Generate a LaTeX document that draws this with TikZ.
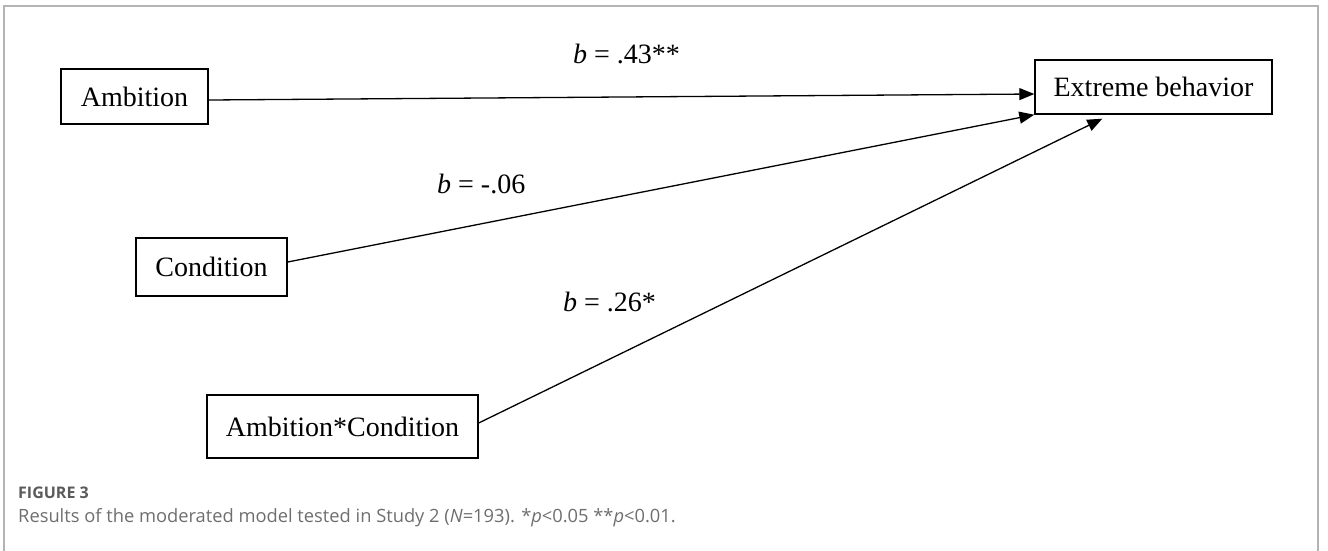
\documentclass[tikz,border=0pt]{standalone}
\usepackage{fontspec}
\setmainfont{Liberation Serif}
\newfontfamily\capfont{Open Sans}
\usetikzlibrary{arrows.meta,calc}
\definecolor{framegray}{HTML}{B4B4B4}
\definecolor{capgray}{HTML}{6E6E6E}
\definecolor{figgray}{HTML}{5A5A5A}
\tikzset{
  varbox/.style={draw=black, line width=1.4pt, fill=white, inner sep=0pt, font=\fontsize{28}{32}\selectfont},
  path/.style={draw=black, line width=1.3pt, -{Triangle[length=15pt,width=12pt]}},
  coef/.style={font=\fontsize{28}{32}\selectfont, inner sep=0pt, anchor=base west},
  capstyle/.style={inner sep=0pt, anchor=base west, text=capgray, font=\capfont\fontsize{18.3}{21}\selectfont}
}
\begin{document}
\begin{tikzpicture}[x=1pt,y=-1pt]
\useasboundingbox (0,0) rectangle (1328,550);
% frame
\coordinate (fbl) at (4,551);
\coordinate (ftl) at (4,6);
\coordinate (ftr) at (1318,6);
\coordinate (fbr) at (1318,551);
\draw[framegray, line width=1.5pt] (fbl) -- (ftl) -- (ftr) -- (fbr);
% boxes
\node[varbox, minimum width=147pt, minimum height=55pt] (amb) at (134.5,96.5) {Ambition};
\node[varbox, minimum width=237pt, minimum height=54pt] (ext) at (1153.5,87) {Extreme behavior};
\node[varbox, minimum width=151pt, minimum height=58pt] (cond) at (211.5,267) {Condition};
\node[varbox, minimum width=271pt, minimum height=63pt] (inter) at (342.5,426.5) {Ambition*Condition};
% paths
\draw[path] ($(amb.east)+(0,3.5)$) -- ($(ext.west)+(0,7)$);
\draw[path] ($(cond.east)+(0,-5)$) -- (ext.south west);
\draw[path] ($(inter.east)+(0,-3.5)$) -- ($(ext.south west)+(68,4)$);
% coefficients
\node[coef] (c1) at (573,63) {\textit{b} = .43**};
\node[coef] (c2) at (437,193) {\textit{b} = -.06};
\node[coef] (c3) at (563,311) {\textit{b} = .26*};
% caption
\node[capstyle, text=figgray, font=\capfont\bfseries\fontsize{16}{19}\selectfont] (fig) at (18,498) {FIGURE 3};
\node[capstyle] (cap) at (18,522) {Results of the moderated model tested in Study 2 (\textit{N}=193). *\textit{p}<0.05 **\textit{p}<0.01.};
\end{tikzpicture}
\end{document}
